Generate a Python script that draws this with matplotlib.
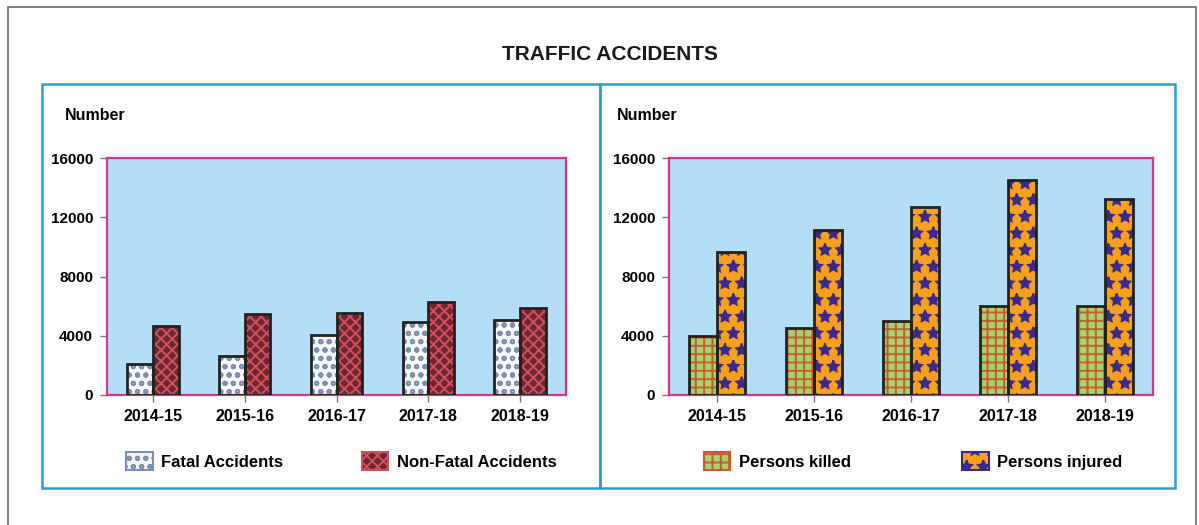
import numpy as np
import matplotlib
matplotlib.use("Agg")
import matplotlib.pyplot as plt
from matplotlib.patches import Rectangle, Patch

# ---- data ----
years = ["2014-15", "2015-16", "2016-17", "2017-18", "2018-19"]
fatal = [2100, 2600, 4050, 4900, 5050]
non_fatal = [4650, 5500, 5550, 6300, 5850]
killed = [3980, 4520, 5000, 6000, 6000]
injured = [9650, 11150, 12700, 14500, 13250]
yticks = [0, 4000, 8000, 12000, 16000]

plt.rcParams['font.family'] = ['Liberation Sans', 'DejaVu Sans']
plt.rcParams['font.weight'] = 'bold'
plt.rcParams['hatch.linewidth'] = 1.4

W, H = 1199, 525
fig = plt.figure(figsize=(W / 100, H / 100), dpi=100)


def fx(px):
    return px / W


def fy(py):
    return 1 - py / H


# outer gray frame (bottom edge runs off the picture)
fig.patches.append(Rectangle((fx(8), fy(540)), fx(1188), (540 - 7) / H, transform=fig.transFigure,
                             fill=False, edgecolor='#6a6a6a', linewidth=1.2))
# blue panel boxes
for x0, x1 in [(42, 600), (600, 1175)]:
    fig.patches.append(Rectangle((fx(x0), fy(488)), fx(x1 - x0), (488 - 84) / H, transform=fig.transFigure,
                                 fill=False, edgecolor='#2b9fd4', linewidth=1.8))

fig.text(fx(610), fy(54), "TRAFFIC ACCIDENTS", ha='center', va='center', fontsize=15, fontweight='bold',
         color='#1a1a1a')

panels = [
    ([107, 459], fatal, non_fatal, ["Fatal Accidents", "Non-Fatal Accidents"],
     [('#f7f7f7', '#7d8fb0', 'oo'), ('#6e2530', '#d2505e', 'xxx')], 65, 0.28, 4.7, 0.035),
    ([669, 484], killed, injured, ["Persons killed", "Persons injured"],
     [('#a3d46c', '#c85a2e', '++'), ('#f6a01c', '#3b2a8c', '*')], 617, 0.29, 6.7, 0.065),
]

x = np.arange(len(years))
for (ax_x, ax_w), s1, s2, labels, styles, num_x, bw, colsp, lx in panels:
    ax = fig.add_axes([fx(ax_x), fy(395), fx(ax_w), 237 / H])
    ax.set_facecolor('#b4def6')
    handles = []
    for off, vals, (fc, hc, ht), lab in zip([-bw / 2, bw / 2], [s1, s2], styles, labels):
        ax.bar(x + off, vals, bw, color=fc, hatch=ht, edgecolor=hc, linewidth=0, zorder=2)
        ax.bar(x + off, vals, bw, fill=False, edgecolor='#222222', linewidth=2, zorder=3)
        handles.append(Patch(facecolor=fc, hatch=ht, edgecolor=hc, linewidth=1.5, label=lab))
    ax.set_xlim(-0.5, len(years) - 0.5)
    ax.set_ylim(0, 16000)
    ax.set_yticks(yticks)
    ax.set_yticklabels([str(v) for v in yticks], fontsize=11, fontweight='bold')
    ax.set_xticks(x)
    ax.set_xticklabels(years, fontsize=11.5, fontweight='bold')
    for sp in ax.spines.values():
        sp.set_color('#d8338f')
        sp.set_linewidth(1.6)
    ax.tick_params(axis='both', length=5, width=1, color='#777777', pad=5)
    fig.text(fx(num_x), fy(115), "Number", ha='left', va='center', fontsize=11.5, fontweight='bold')
    ax.legend(handles=handles, ncol=2, frameon=False, loc='center left',
              bbox_to_anchor=(lx, -0.28), handlelength=1.6, handleheight=1.3,
              handletextpad=0.5, columnspacing=colsp, borderpad=0.2, borderaxespad=0,
              prop={'weight': 'bold', 'size': 12})

fig.savefig("out.png", dpi=100)
